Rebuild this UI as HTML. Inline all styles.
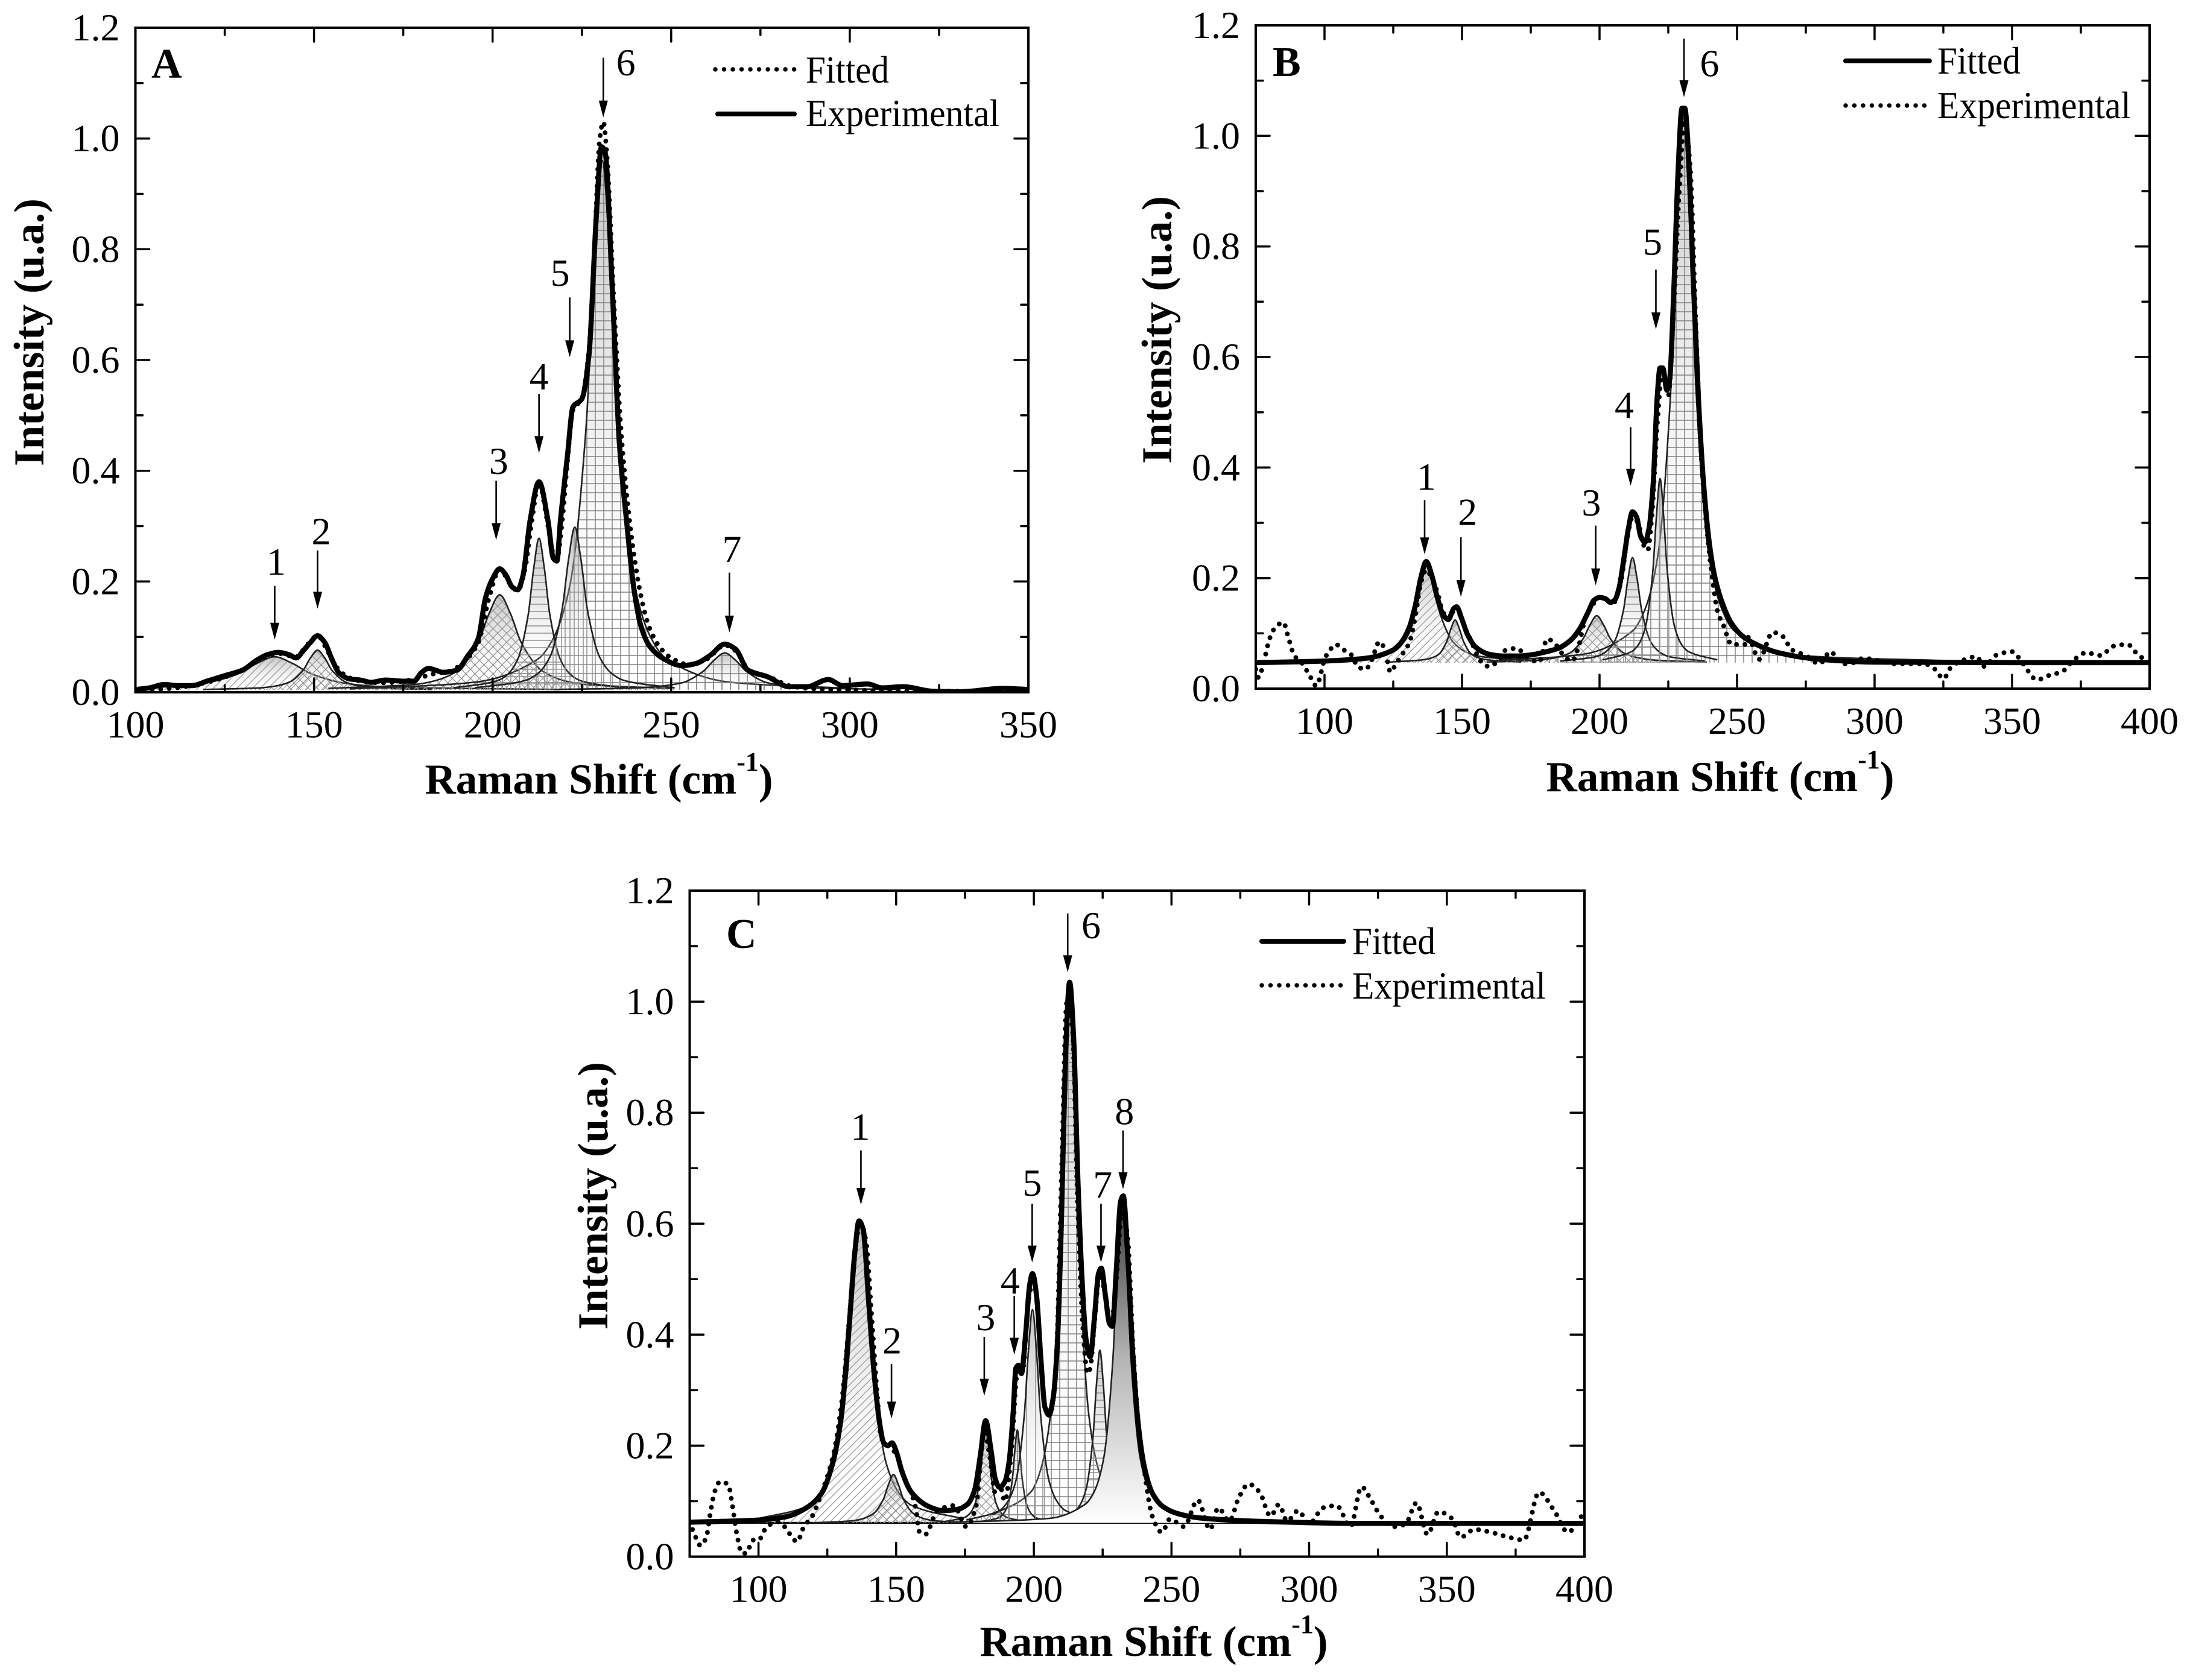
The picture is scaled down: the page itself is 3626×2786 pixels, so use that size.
<!DOCTYPE html>
<html lang="en">
<head>
<meta charset="utf-8">
<title>Raman spectra panels A, B and C</title>
<style>
html,body{margin:0;padding:0;background:#fff}
svg{display:block}
text{font-family:"Liberation Serif",serif;fill:#000}
</style>
</head>
<body>
<svg id="figure" xmlns="http://www.w3.org/2000/svg" width="3626" height="2786" viewBox="0 0 3626 2786">
<defs>
<linearGradient id="grad-gray" x1="0" y1="0" x2="0" y2="1"><stop offset="0" stop-color="#999" stop-opacity=".6"/><stop offset="1" stop-color="#fff" stop-opacity="0"/></linearGradient>
<linearGradient id="grad-dark" x1="0" y1="0" x2="0" y2="1"><stop offset="0" stop-color="#333"/><stop offset=".5" stop-color="#b5b5b5"/><stop offset="1" stop-color="#fff"/></linearGradient>
<pattern id="hatch-diag" width="13" height="13" patternUnits="userSpaceOnUse"><path d="M-2 15L15 -2M-2 2L2 -2M11 15L15 11" stroke="#a0a0a0" stroke-width="1.4" fill="none"/></pattern>
<pattern id="hatch-cross" width="15" height="15" patternUnits="userSpaceOnUse"><path d="M0 15L15 0M0 0L15 15" stroke="#999" stroke-width="1.4" fill="none"/></pattern>
<pattern id="hatch-horizontal" width="12" height="12" patternUnits="userSpaceOnUse"><path d="M0 6H12" stroke="#909090" stroke-width="1.5"/></pattern>
<pattern id="hatch-vertical" width="15" height="15" patternUnits="userSpaceOnUse"><path d="M7 0V15" stroke="#909090" stroke-width="1.5"/></pattern>
<pattern id="hatch-grid" width="14" height="15" patternUnits="userSpaceOnUse"><path d="M0 7H14M7 0V15" stroke="#808080" stroke-width="1.5"/></pattern>
<pattern id="hatch-none" width="10" height="10" patternUnits="userSpaceOnUse"></pattern>
<clipPath id="clip-a"><rect x="224.5" y="46" width="1480.5" height="1102"/></clipPath>
<clipPath id="clip-b"><rect x="2082" y="42" width="1482" height="1100"/></clipPath>
<clipPath id="clip-c"><rect x="1143.5" y="1477" width="1483.5" height="1104.5"/></clipPath>
</defs>

<g id="panel-a">
  <text x="48" y="551" text-anchor="middle" font-size="71" font-weight="bold" transform="rotate(-90 48 551)" dy="24">Intensity (u.a.)</text>
  <text x="993" y="1316" text-anchor="middle" font-size="71" font-weight="bold">Raman Shift (cm<tspan dy="-38" font-size="44">-1</tspan><tspan dy="38">)</tspan></text>
  <text x="251" y="129" font-size="70" font-weight="bold">A</text>
  <text x="1336" y="137" font-size="63" textLength="138" lengthAdjust="spacingAndGlyphs">Fitted</text>
  <text x="1336" y="209" font-size="63" textLength="321" lengthAdjust="spacingAndGlyphs">Experimental</text>
</g>
<g id="panel-b">
  <text x="1918" y="547" text-anchor="middle" font-size="71" font-weight="bold" transform="rotate(-90 1918 547)" dy="24">Intensity (u.a.)</text>
  <text x="2852" y="1312" text-anchor="middle" font-size="71" font-weight="bold">Raman Shift (cm<tspan dy="-38" font-size="44">-1</tspan><tspan dy="38">)</tspan></text>
  <text x="2110" y="126" font-size="70" font-weight="bold">B</text>
  <text x="3212" y="122" font-size="63" textLength="138" lengthAdjust="spacingAndGlyphs">Fitted</text>
  <text x="3212" y="196" font-size="63" textLength="321" lengthAdjust="spacingAndGlyphs">Experimental</text>
</g>
<g id="panel-c">
  <text x="983" y="1983" text-anchor="middle" font-size="71" font-weight="bold" transform="rotate(-90 983 1983)" dy="24">Intensity (u.a.)</text>
  <text x="1913" y="2746" text-anchor="middle" font-size="71" font-weight="bold">Raman Shift (cm<tspan dy="-38" font-size="44">-1</tspan><tspan dy="38">)</tspan></text>
  <text x="1204" y="1572" font-size="70" font-weight="bold">C</text>
  <text x="2242" y="1582" font-size="63" textLength="138" lengthAdjust="spacingAndGlyphs">Fitted</text>
  <text x="2242" y="1656" font-size="63" textLength="321" lengthAdjust="spacingAndGlyphs">Experimental</text>
</g>
</svg>

<script>
/* ---------- tick values and labels ---------- */
const yTickValues = [0, 0.2, 0.4, 0.6, 0.8, 1.0, 1.2];
const yTickLabels = ["0.0", "0.2", "0.4", "0.6", "0.8", "1.0", "1.2"];
const yMinorValues = [0.1, 0.3, 0.5, 0.7, 0.9, 1.1];
const xTicksA = [100, 150, 200, 250, 300, 350];
const xLabelsA = ["100", "150", "200", "250", "300", "350"];
const xMinorA = [125, 175, 225, 275, 325];
const xTicksBC = [100, 150, 200, 250, 300, 350, 400];
const xLabelsBC = ["100", "150", "200", "250", "300", "350", "400"];
const xMinorBC = [75, 125, 175, 225, 275, 325, 375];

/* ---------- panel A main curves ---------- */
const aSolidX = [100,104,108,112,116,120,125,130,134,137,140,143,145,147,149,151,153,155,157,160,163,166,170,175,178,180,182,184,186,190,193,196,198,200,202,203.6,205.5,207,208.5,210.5,213,215.5,217,218,219,221,222.5,225,227,229,230.5,231.5,233.5,235.5,237.5,239.5,241.5,244,248,253,257,261,265,268,271.5,277,283,288,294,298,305,309,315,323,331,343,350];
const aSolidY = [0.005,0.008,0.014,0.012,0.012,0.02,0.03,0.04,0.058,0.068,0.072,0.068,0.062,0.075,0.09,0.102,0.09,0.06,0.035,0.024,0.022,0.018,0.022,0.02,0.02,0.035,0.043,0.04,0.036,0.04,0.065,0.097,0.17,0.205,0.223,0.213,0.19,0.185,0.21,0.31,0.38,0.31,0.242,0.237,0.31,0.43,0.515,0.53,0.61,0.855,0.985,0.975,0.73,0.45,0.31,0.19,0.12,0.083,0.06,0.048,0.052,0.067,0.087,0.078,0.04,0.028,0.01,0.01,0.023,0.012,0.015,0.008,0.01,0.002,0.001,0.007,0.005];
const aDotX = [100,110,120,130,135,140,145,148,151,154,157,160,165,170,175,180,184,188,192,196,199,202,205,207,209,211,213,215,217,218,219.5,221,222.5,225,227,228.5,230,231,232,234,236,238,240,242,244,247,250,255,260,265,268,272,278,283,290,300,320,350];
const aDotY = [0.003,0.007,0.018,0.04,0.06,0.07,0.064,0.085,0.102,0.072,0.04,0.026,0.018,0.017,0.02,0.027,0.034,0.038,0.055,0.09,0.17,0.222,0.195,0.183,0.22,0.31,0.38,0.32,0.25,0.24,0.31,0.42,0.51,0.53,0.62,0.8,1.0,1.03,0.97,0.7,0.47,0.33,0.23,0.16,0.115,0.08,0.062,0.05,0.06,0.085,0.075,0.038,0.026,0.012,0.006,0.004,0.002,0.002];

/* ---------- panel A component peaks ---------- */
const aPeak1X = [100,109,119,129,134,139,144,149,159,169,179,219];
const aPeak1Y = [0.008,0.010,0.016,0.034,0.052,0.064,0.052,0.034,0.016,0.010,0.008,0.005];
const aPeak2X = [119,135,139,143,147,149,151,153,155,159,163,167,183];
const aPeak2Y = [0.005,0.008,0.011,0.018,0.040,0.062,0.076,0.062,0.040,0.018,0.011,0.008,0.005];
const aPeak3X = [154,178,184,190,196,199,202,205,208,214,220,226,250];
const aPeak3Y = [0.007,0.014,0.021,0.038,0.090,0.142,0.176,0.142,0.090,0.038,0.021,0.014,0.007];
const aPeak4X = [189,201,204,207,210,211.5,213,214.5,216,219,222,225,237];
const aPeak4Y = [0.008,0.020,0.031,0.059,0.141,0.223,0.278,0.223,0.141,0.059,0.031,0.020,0.008];
const aPeak5X = [195,209,212.5,216,219.5,221.25,223,224.75,226.5,230,233.5,237,251];
const aPeak5Y = [0.008,0.021,0.033,0.063,0.151,0.239,0.298,0.239,0.151,0.063,0.033,0.021,0.008];
const aPeak6X = [160,194.7,212.7,217.2,221.7,226.2,228.45,230.7,232.95,235.2,239.7,244.2,248.7,266.7,300];
const aPeak6Y = [0.006,0.018,0.060,0.100,0.195,0.482,0.769,0.960,0.769,0.482,0.195,0.100,0.060,0.018,0.007];
const aPeak7X = [217,241,247,253,259,262,265,268,271,277,283,289,313];
const aPeak7Y = [0.005,0.008,0.011,0.017,0.038,0.058,0.071,0.058,0.038,0.017,0.011,0.008,0.005];

/* ---------- panel B main curves ---------- */
const bFitX = [75,100,115,125,130,133,135,137,139,141,143,145,147,148,150,152,155,160,165,170,175,180,185,190,193,196,198,200,202,204,205.5,207,209,210.5,212,213.5,215,216.5,218,219.5,221,222,223,224.5,225.5,227,228.5,230,231,232.5,234,236,238,240,242,245,248,252,257,265,280,300,350,400];
const bFitY = [0.047,0.05,0.055,0.07,0.10,0.15,0.2,0.23,0.205,0.165,0.135,0.125,0.145,0.148,0.125,0.098,0.075,0.062,0.059,0.059,0.061,0.066,0.073,0.09,0.11,0.14,0.16,0.165,0.163,0.156,0.16,0.18,0.24,0.29,0.32,0.31,0.275,0.265,0.29,0.37,0.53,0.58,0.58,0.54,0.56,0.72,0.93,1.05,1.05,0.95,0.75,0.52,0.36,0.26,0.2,0.15,0.118,0.095,0.08,0.065,0.053,0.048,0.047,0.047];
const bDotX = [75,76,78,80,82,85,87,89,92,95,97,98,100,102,104,107,110,112,115,117,120,122,124,126,128,131,133,135,137,139,141,143,145,147,149,151,153,155.7,158,160,163,166,170,173,178,181,184,187,190,192,195,198,200,203,205,208,210,212,214,216,217.5,219,221,223,225,227,229,231,233,235,237,239,241,243,245,248,253,254,258,263,266.5,270,275,280,284,288,291,296,302,307,312,318,322,325,328,333,337,340,344,350,354,359,364,368,372,377,382,387,392,396,399.5];
const bDotY = [0.035,0.02,0.05,0.09,0.11,0.12,0.09,0.06,0.045,0.02,0.005,0.015,0.053,0.07,0.08,0.07,0.06,0.04,0.035,0.05,0.085,0.07,0.03,0.045,0.06,0.085,0.13,0.19,0.215,0.2,0.175,0.14,0.125,0.14,0.135,0.11,0.09,0.059,0.043,0.04,0.05,0.07,0.073,0.06,0.048,0.09,0.08,0.06,0.05,0.07,0.13,0.155,0.165,0.16,0.155,0.2,0.27,0.31,0.3,0.26,0.25,0.31,0.48,0.58,0.53,0.69,0.9,1.03,0.94,0.66,0.42,0.29,0.2,0.138,0.115,0.08,0.08,0.093,0.053,0.102,0.095,0.07,0.06,0.045,0.067,0.045,0.045,0.055,0.05,0.045,0.045,0.045,0.035,0.018,0.04,0.053,0.058,0.04,0.06,0.067,0.045,0.016,0.025,0.03,0.05,0.065,0.06,0.077,0.08,0.06,0.05];

/* ---------- panel B component peaks ---------- */
const bPeak1X = [97,117,122,127,132,134.5,137,139.5,142,147,152,157,177];
const bPeak1Y = [0.050,0.058,0.065,0.083,0.136,0.189,0.225,0.189,0.136,0.083,0.065,0.058,0.050];
const bPeak2X = [123.5,135.5,138.5,141.5,144.5,146,147.5,149,150.5,153.5,156.5,159.5,171.5];
const bPeak2Y = [0.048,0.052,0.055,0.062,0.086,0.109,0.124,0.109,0.086,0.062,0.055,0.052,0.048];
const bPeak3X = [159,179,184,189,194,196.5,199,201.5,204,209,214,219,239];
const bPeak3Y = [0.048,0.052,0.056,0.064,0.090,0.115,0.132,0.115,0.090,0.064,0.056,0.052,0.048];
const bPeak4X = [185.6,198.8,202.1,205.4,208.7,210.35,212,213.65,215.3,218.6,221.9,225.2,238.4];
const bPeak4Y = [0.050,0.058,0.066,0.085,0.142,0.199,0.237,0.199,0.142,0.085,0.066,0.058,0.050];
const bPeak5X = [201.2,211.6,214.2,216.8,219.4,220.7,222,223.3,224.6,227.2,229.8,232.4,242.8];
const bPeak5Y = [0.052,0.067,0.080,0.114,0.214,0.313,0.380,0.313,0.214,0.114,0.080,0.067,0.052];
const bPeak6X = [160,193.7,212.1,216.7,221.3,225.9,228.2,230.5,232.8,235.1,239.7,244.3,248.9,267.3,330];
const bPeak6Y = [0.05,0.062,0.105,0.146,0.244,0.540,0.835,1.032,0.835,0.540,0.244,0.146,0.105,0.062,0.05];

/* ---------- panel C main curves ---------- */
const cFitX = [75,100,110,118,123,127,130,133,135,136.5,138,140,142,144,145.5,147,148.5,150,152,155,158,162,167,172,176,178.5,180.5,182.5,184.5,186,187.5,189.5,191,192.5,193.5,194.5,195.5,197,198.5,199.5,201,202.5,204,205.5,207,208.5,210,211.5,213,214.5,216,217.5,219,220.5,222,223.5,224.5,226,227.5,228.5,230,231.5,232.5,234,236,238,240,243,247,252,260,280,320,400];
const cFitY = [0.062,0.066,0.072,0.09,0.115,0.17,0.25,0.42,0.55,0.605,0.59,0.46,0.33,0.24,0.205,0.2,0.205,0.19,0.155,0.12,0.103,0.09,0.083,0.085,0.095,0.12,0.18,0.245,0.19,0.14,0.125,0.135,0.17,0.26,0.34,0.345,0.33,0.4,0.49,0.51,0.47,0.36,0.27,0.255,0.285,0.38,0.6,0.9,1.035,0.93,0.68,0.5,0.39,0.36,0.43,0.51,0.52,0.47,0.42,0.415,0.52,0.64,0.65,0.55,0.36,0.235,0.165,0.115,0.09,0.078,0.07,0.064,0.06,0.06];
const cDotX = [76,79,81,82.5,84,86,89,90.5,92,94,95.5,98,100,103,107,109.5,111.5,114,116.5,119.5,123,127,130,133,135,137,139,141,143,144.5,147,150,153,155,157,158.5,160.5,165,171,175.5,179,182,184,186,187.5,189.5,192,194,196,198,200,202,204,206,208,210,212,214,216,218,219.5,220.5,222,224,226,228,230,232,234,236,238,240,243,246.5,249.5,254.5,259.5,264,267,271,274.5,278,282,286,289,292,296,300,305,310,315,319,322.5,326,331,335,339,343,347,352,355,360,366,372.5,378,383.5,389,394,399];
const cDotY = [0.049,0.02,0.035,0.078,0.116,0.135,0.13,0.092,0.044,0.006,0.006,0.03,0.03,0.054,0.063,0.054,0.04,0.027,0.054,0.073,0.116,0.18,0.27,0.43,0.55,0.6,0.57,0.44,0.3,0.215,0.2,0.185,0.14,0.12,0.09,0.044,0.04,0.083,0.092,0.054,0.09,0.225,0.18,0.115,0.13,0.1,0.2,0.33,0.335,0.46,0.5,0.4,0.27,0.26,0.34,0.68,1.0,0.95,0.62,0.4,0.33,0.34,0.42,0.51,0.47,0.42,0.5,0.62,0.58,0.38,0.24,0.16,0.073,0.044,0.068,0.054,0.102,0.049,0.088,0.064,0.107,0.131,0.116,0.073,0.094,0.064,0.083,0.059,0.088,0.092,0.054,0.126,0.102,0.073,0.054,0.059,0.097,0.04,0.081,0.068,0.035,0.049,0.044,0.035,0.03,0.116,0.083,0.044,0.073];

/* ---------- panel C component peaks ---------- */
const cPeak1X = [99.4,118.2,122.9,127.6,132.3,134.65,137,139.35,141.7,146.4,151.1,155.8,174.6];
const cPeak1Y = [0.068,0.092,0.114,0.168,0.330,0.492,0.600,0.492,0.330,0.168,0.114,0.092,0.068];
const cPeak2X = [120.2,134.6,138.2,141.8,145.4,147.2,149,150.8,152.6,156.2,159.8,163.4,177.8];
const cPeak2Y = [0.061,0.065,0.069,0.078,0.104,0.130,0.148,0.130,0.104,0.078,0.069,0.065,0.061];
const cPeak3X = [167.3,174.9,176.8,178.7,180.6,181.55,182.5,183.45,184.4,186.3,188.2,190.1,197.7];
const cPeak3Y = [0.063,0.071,0.078,0.096,0.150,0.204,0.240,0.204,0.150,0.096,0.078,0.071,0.063];
const cPeak4X = [180.4,187.2,188.9,190.6,192.3,193.15,194,194.85,195.7,197.4,199.1,200.8,207.6];
const cPeak4Y = [0.063,0.070,0.077,0.094,0.144,0.194,0.228,0.194,0.144,0.094,0.077,0.070,0.063];
const cPeak5X = [175.5,187.5,190.5,193.5,196.5,198,199.5,201,202.5,205.5,208.5,211.5,223.5];
const cPeak5Y = [0.066,0.083,0.099,0.137,0.253,0.368,0.445,0.368,0.253,0.137,0.099,0.083,0.066];
const cPeak6X = [185,199,202.5,206,209.5,211.25,213,214.75,216.5,220,223.5,227,241];
const cPeak6Y = [0.075,0.117,0.157,0.254,0.545,0.836,1.03,0.836,0.545,0.254,0.157,0.117,0.075];
const cPeak7X = [204,214,216.5,219,221.5,222.75,224,225.25,226.5,229,231.5,234,244];
const cPeak7Y = [0.065,0.078,0.091,0.122,0.216,0.310,0.372,0.310,0.216,0.122,0.091,0.078,0.065];
const cPeak8X = [170,205.6,218.8,222.1,225.4,228.7,230.35,232,233.65,235.3,238.6,241.9,245.2,258.4,300];
const cPeak8Y = [0.062,0.069,0.095,0.119,0.178,0.355,0.532,0.650,0.532,0.355,0.178,0.119,0.095,0.069,0.062];

/* ---------- peak-arrow annotations (data coordinates) ---------- */
const aNoteText = ["1","2","3","4","5","6","7"];
const aNoteX = [139,151,201,213,221.6,231,266.3];
const aNoteTip = [0.095,0.151,0.275,0.432,0.605,1.038,0.108];
const aNoteTail = [0.192,0.256,0.382,0.539,0.713,1.146,0.216];
const aNoteLabelX = [139.4,152,201.7,213,218.9,237.3,267];
const aNoteLabelY = [0.235,0.29,0.417,0.57,0.757,1.137,0.258];
const bNoteText = ["1","2","3","4","5","6"];
const bNoteX = [136.4,149.6,198.6,211.3,220.5,230.7];
const bNoteTip = [0.243,0.166,0.187,0.367,0.65,1.07];
const bNoteTail = [0.341,0.274,0.295,0.473,0.758,1.176];
const bNoteLabelX = [137,152,197,209,219.3,240];
const bNoteLabelY = [0.383,0.319,0.336,0.513,0.808,1.131];
const cNoteText = ["1","2","3","4","5","6","7","8"];
const cNoteX = [137.2,148.3,182,192.9,199.4,212.3,224.4,232.4];
const cNoteTip = [0.634,0.249,0.29,0.364,0.53,1.053,0.53,0.662];
const cNoteTail = [0.732,0.347,0.396,0.47,0.636,1.159,0.636,0.768];
const cNoteLabelX = [137,148.5,182.5,191.4,199.4,220.8,225,232.9];
const cNoteLabelY = [0.774,0.389,0.431,0.497,0.673,1.137,0.67,0.802];

/* ---------- axis limits and baselines ---------- */
const aXDomain = [100, 350];
const bXDomain = [75, 400];
const cXDomain = [75, 400];
const yDomain = [0, 1.2];
const baselineA = 0.004;
const baselineB = 0.047;
const baselineC = 0.061;

const SVG_NS = "http://www.w3.org/2000/svg";

function make(tag, attrs, parent) {
  const el = document.createElementNS(SVG_NS, tag);
  for (const k in attrs) el.setAttribute(k, attrs[k]);
  parent.appendChild(el);
  return el;
}

function scales(box, xDomain) {
  return {
    x: v => box.left + (v - xDomain[0]) / (xDomain[1] - xDomain[0]) * (box.right - box.left),
    y: v => box.bottom - (v - yDomain[0]) / (yDomain[1] - yDomain[0]) * (box.bottom - box.top)
  };
}

/* monotone cubic path through the data points (smoothing only, adds no data) */
function curvePath(xs, ys, sx, sy) {
  const px = xs.map(sx), py = ys.map(sy), n = px.length;
  const d = [], m = new Array(n).fill(0);
  for (let i = 0; i < n - 1; i++) d.push((py[i + 1] - py[i]) / (px[i + 1] - px[i]));
  m[0] = d[0]; m[n - 1] = d[n - 2];
  for (let i = 1; i < n - 1; i++) {
    if (d[i - 1] * d[i] <= 0) { m[i] = 0; continue; }
    const h0 = px[i] - px[i - 1], h1 = px[i + 1] - px[i];
    const w1 = 2 * h1 + h0, w2 = h1 + 2 * h0;
    m[i] = (w1 + w2) / (w1 / d[i - 1] + w2 / d[i]);
  }
  let out = "M" + px[0].toFixed(1) + " " + py[0].toFixed(1);
  for (let i = 0; i < n - 1; i++) {
    const h = (px[i + 1] - px[i]) / 3;
    out += "C" + (px[i] + h).toFixed(1) + " " + (py[i] + m[i] * h).toFixed(1) + " " +
      (px[i + 1] - h).toFixed(1) + " " + (py[i + 1] - m[i + 1] * h).toFixed(1) + " " +
      px[i + 1].toFixed(1) + " " + py[i + 1].toFixed(1);
  }
  return out;
}

function drawPeak(plot, s, xs, ys, base, hatch, gradient, index) {
  const line = curvePath(xs, ys, s.x, s.y);
  const closed = line + "L" + s.x(xs[xs.length - 1]).toFixed(1) + " " + s.y(base).toFixed(1) +
    "L" + s.x(xs[0]).toFixed(1) + " " + s.y(base).toFixed(1) + "Z";
  const shade = make("path", { d: closed, fill: "url(#" + gradient + ")" }, plot);
  
  
  const hatchFill = make("path", { d: closed, fill: "url(#" + hatch + ")" }, plot);
  
  
  const outline = make("path", { d: line, fill: "none", stroke: "#222", "stroke-width": 2.6 }, plot);
  
  
}

function drawSeries(plot, s, xs, ys, dotted, name) {
  const attrs = dotted
    ? { fill: "none", stroke: "#000", "stroke-width": 8, "stroke-linecap": "round", "stroke-dasharray": "0.01 14" }
    : { fill: "none", stroke: "#000", "stroke-width": 8.5, "stroke-linejoin": "round", "stroke-linecap": "round" };
  attrs.d = curvePath(xs, ys, s.x, s.y);
  const el = make("path", attrs, plot);
  
  
}

function drawAxes(g, box, s, xTicks, xLabels, xMinor) {
  const frame = make("rect", { x: box.left, y: box.top, width: box.right - box.left, height: box.bottom - box.top, fill: "none", stroke: "#000", "stroke-width": 4 }, g);
  
  
  let d = "";
  xTicks.forEach(v => { const x = s.x(v).toFixed(1); d += "M" + x + " " + box.bottom + "v-23M" + x + " " + box.top + "v23"; });
  xMinor.forEach(v => { const x = s.x(v).toFixed(1); d += "M" + x + " " + box.bottom + "v-12M" + x + " " + box.top + "v12"; });
  yTickValues.forEach(v => { const y = s.y(v).toFixed(1); d += "M" + box.left + " " + y + "h23M" + box.right + " " + y + "h-23"; });
  yMinorValues.forEach(v => { const y = s.y(v).toFixed(1); d += "M" + box.left + " " + y + "h12M" + box.right + " " + y + "h-12"; });
  const ticks = make("path", { d: d, stroke: "#000", "stroke-width": 3.5, "stroke-linecap": "round", fill: "none" }, g);
  
  
  xTicks.forEach((v, i) => {
    const t = make("text", { x: s.x(v), y: box.bottom + 75, "text-anchor": "middle", "font-size": 64 }, g);
    t.textContent = xLabels[i];
    
    
  });
  yTickValues.forEach((v, i) => {
    const t = make("text", { x: box.left - 26, y: s.y(v) + 21, "text-anchor": "end", "font-size": 64 }, g);
    t.textContent = yTickLabels[i];
    
    
  });
}

function drawNotes(g, s, text, xs, tips, tails, labelXs, labelYs) {
  text.forEach((label, i) => {
    const x = s.x(xs[i]), tip = s.y(tips[i]), tail = s.y(tails[i]);
    const shaft = make("line", { x1: x, x2: x, y1: tail, y2: tip - 20, stroke: "#000", "stroke-width": 2.6 }, g);
    
    
    const head = make("polygon", { points: (x - 7.5) + "," + (tip - 28) + " " + (x + 7.5) + "," + (tip - 28) + " " + x + "," + tip, fill: "#000" }, g);
    
    
    const t = make("text", { x: s.x(labelXs[i]), y: s.y(labelYs[i]) + 21, "text-anchor": "middle", "font-size": 64 }, g);
    t.textContent = label;
    
    
  });
}

function drawLegendLine(g, x1, x2, y, dotted, name) {
  const attrs = dotted
    ? { stroke: "#000", "stroke-width": 7.5, "stroke-linecap": "round", "stroke-dasharray": "0.01 14.5" }
    : { stroke: "#000", "stroke-width": 8, "stroke-linecap": "round" };
  attrs.x1 = x1; attrs.x2 = x2; attrs.y1 = y; attrs.y2 = y;
  const el = make("line", attrs, g);
  
  
}

/* ---------- panel A ---------- */
const boxA = { left: 224.5, right: 1705, top: 46, bottom: 1148 };
const gA = document.getElementById("panel-a");
const sA = scales(boxA, aXDomain);
const plotA = make("g", { "clip-path": "url(#clip-a)" }, gA);


drawPeak(plotA, sA, aPeak1X, aPeak1Y, baselineA, "hatch-diag", "grad-gray", 1);
drawPeak(plotA, sA, aPeak2X, aPeak2Y, baselineA, "hatch-cross", "grad-gray", 2);
drawPeak(plotA, sA, aPeak3X, aPeak3Y, baselineA, "hatch-cross", "grad-gray", 3);
drawPeak(plotA, sA, aPeak6X, aPeak6Y, baselineA, "hatch-grid", "grad-gray", 6);
drawPeak(plotA, sA, aPeak4X, aPeak4Y, baselineA, "hatch-horizontal", "grad-gray", 4);
drawPeak(plotA, sA, aPeak5X, aPeak5Y, baselineA, "hatch-vertical", "grad-gray", 5);
drawPeak(plotA, sA, aPeak7X, aPeak7Y, baselineA, "hatch-grid", "grad-gray", 7);
drawSeries(plotA, sA, aDotX, aDotY, true, "fitted-dotted-series-a");
drawSeries(plotA, sA, aSolidX, aSolidY, false, "experimental-solid-series-a");
drawAxes(gA, boxA, sA, xTicksA, xLabelsA, xMinorA);
drawNotes(gA, sA, aNoteText, aNoteX, aNoteTip, aNoteTail, aNoteLabelX, aNoteLabelY);
drawLegendLine(gA, 1186, 1318, 115, true, "legend-line-fitted-a");
drawLegendLine(gA, 1190, 1317, 189, false, "legend-line-experimental-a");

/* ---------- panel B ---------- */
const boxB = { left: 2082, right: 3564, top: 42, bottom: 1142 };
const gB = document.getElementById("panel-b");
const sB = scales(boxB, bXDomain);
const plotB = make("g", { "clip-path": "url(#clip-b)" }, gB);


drawPeak(plotB, sB, bPeak1X, bPeak1Y, baselineB, "hatch-diag", "grad-gray", 1);
drawPeak(plotB, sB, bPeak2X, bPeak2Y, baselineB, "hatch-cross", "grad-gray", 2);
drawPeak(plotB, sB, bPeak3X, bPeak3Y, baselineB, "hatch-cross", "grad-gray", 3);
drawPeak(plotB, sB, bPeak6X, bPeak6Y, baselineB, "hatch-grid", "grad-gray", 6);
drawPeak(plotB, sB, bPeak4X, bPeak4Y, baselineB, "hatch-horizontal", "grad-gray", 4);
drawPeak(plotB, sB, bPeak5X, bPeak5Y, baselineB, "hatch-vertical", "grad-gray", 5);
drawSeries(plotB, sB, bDotX, bDotY, true, "experimental-dotted-series-b");
drawSeries(plotB, sB, bFitX, bFitY, false, "fitted-solid-series-b");
drawAxes(gB, boxB, sB, xTicksBC, xLabelsBC, xMinorBC);
drawNotes(gB, sB, bNoteText, bNoteX, bNoteTip, bNoteTail, bNoteLabelX, bNoteLabelY);
drawLegendLine(gB, 3060, 3199, 101, false, "legend-line-fitted-b");
drawLegendLine(gB, 3060, 3199, 175, true, "legend-line-experimental-b");

/* ---------- panel C ---------- */
const boxC = { left: 1143.5, right: 2627, top: 1477, bottom: 2581.5 };
const gC = document.getElementById("panel-c");
const sC = scales(boxC, cXDomain);
const plotC = make("g", { "clip-path": "url(#clip-c)" }, gC);


const baseLineC = make("line", { x1: boxC.left, x2: boxC.right, y1: sC.y(baselineC), y2: sC.y(baselineC), stroke: "#111", "stroke-width": 3.2 }, plotC);


drawPeak(plotC, sC, cPeak1X, cPeak1Y, baselineC, "hatch-diag", "grad-gray", 1);
drawPeak(plotC, sC, cPeak2X, cPeak2Y, baselineC, "hatch-cross", "grad-gray", 2);
drawPeak(plotC, sC, cPeak3X, cPeak3Y, baselineC, "hatch-cross", "grad-gray", 3);
drawPeak(plotC, sC, cPeak6X, cPeak6Y, baselineC, "hatch-grid", "grad-gray", 6);
drawPeak(plotC, sC, cPeak4X, cPeak4Y, baselineC, "hatch-grid", "grad-gray", 4);
drawPeak(plotC, sC, cPeak5X, cPeak5Y, baselineC, "hatch-vertical", "grad-gray", 5);
drawPeak(plotC, sC, cPeak7X, cPeak7Y, baselineC, "hatch-horizontal", "grad-gray", 7);
drawPeak(plotC, sC, cPeak8X, cPeak8Y, baselineC, "hatch-none", "grad-dark", 8);
drawSeries(plotC, sC, cDotX, cDotY, true, "experimental-dotted-series-c");
drawSeries(plotC, sC, cFitX, cFitY, false, "fitted-solid-series-c");
drawAxes(gC, boxC, sC, xTicksBC, xLabelsBC, xMinorBC);
drawNotes(gC, sC, cNoteText, cNoteX, cNoteTip, cNoteTail, cNoteLabelX, cNoteLabelY);
drawLegendLine(gC, 2092, 2228, 1561, false, "legend-line-fitted-c");
drawLegendLine(gC, 2092, 2228, 1634, true, "legend-line-experimental-c");
</script>
</body>
</html>
